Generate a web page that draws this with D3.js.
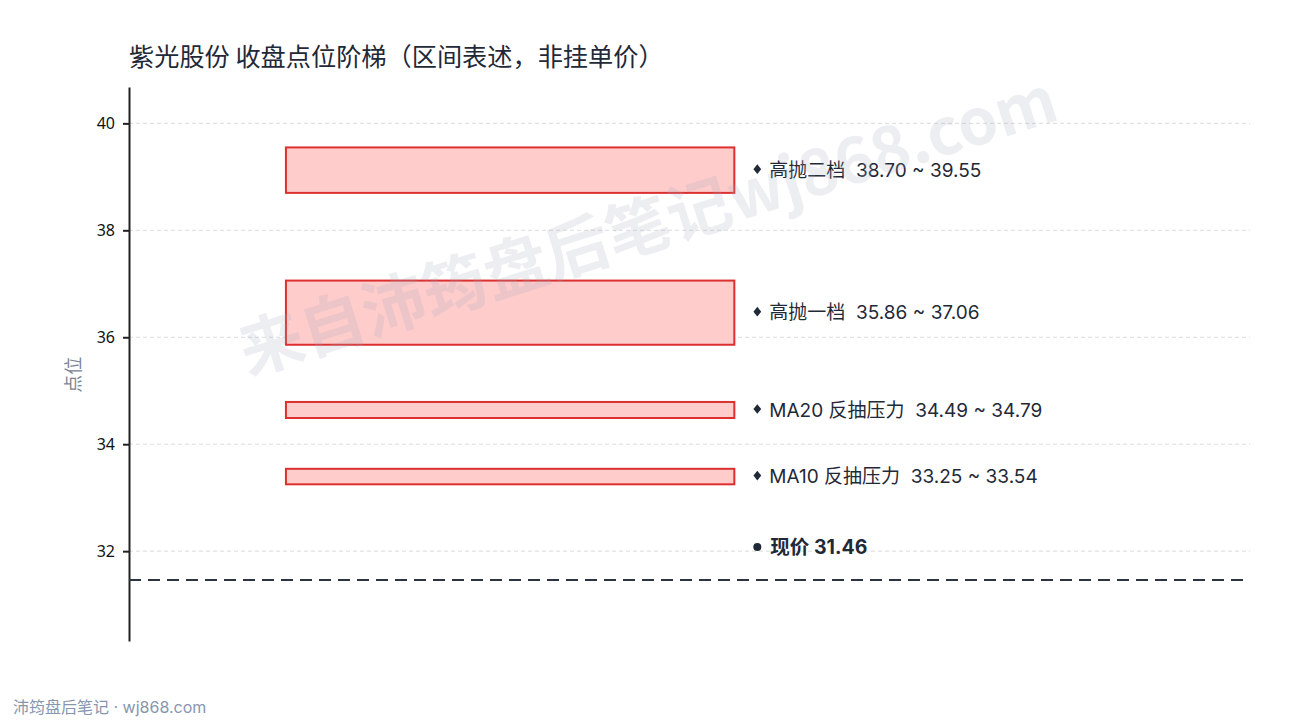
<!DOCTYPE html>
<html>
<head>
<meta charset="utf-8">
<script src="https://cdn.jsdelivr.net/npm/d3@7"></script>
<style>
  body { margin: 0; background: #fff; }
  svg { font-family: "Inter", "Noto Sans CJK SC", sans-serif; }
  text { white-space: pre; }
</style>
</head>
<body>
<svg width="1290" height="720"></svg>
<script>
    // zones, bottom edge / top edge
    const zoneNames = ["高抛二档", "高抛一档", "MA20 反抽压力", "MA10 反抽压力"];
    const zoneLow = [38.70, 35.86, 34.49, 33.25];
    const zoneHigh = [39.55, 37.06, 34.79, 33.54];
    const lastPrice = 31.46;
    const yTicks = [32, 34, 36, 38, 40];
    const yDomain = [30.32, 40.68];

    const svg = d3.select("svg"),
          margin = {top: 87, right: 40, bottom: 79, left: 129},
          width = +svg.attr("width") - margin.left - margin.right,
          height = +svg.attr("height") - margin.top - margin.bottom;

    const g = svg.append("g").attr("transform", `translate(${margin.left},${margin.top})`);

    const zones = zoneNames.map((name, i) => ({name, low: zoneLow[i], high: zoneHigh[i]}));

    const x = d3.scaleLinear().domain([0, 1]).range([0, width]);
    const y = d3.scaleLinear().domain(yDomain).range([height, 0]);

    // Chart title
    svg.append("text")
      .attr("x", 129)
      .attr("y", 66)
      .style("font-size", "25.2px")
      .style("font-family", "'Noto Sans CJK SC', sans-serif")
      .style("fill", "#1f2937")
      .text("紫光股份 收盘点位阶梯（区间表述，非挂单价）");

    // grid
    g.append("g")
      .selectAll("line")
      .data(yTicks)
      .enter().append("line")
      .attr("x1", 0)
      .attr("x2", width)
      .attr("y1", d => y(d))
      .attr("y2", d => y(d))
      .attr("stroke", "#dcdcdc")
      .attr("stroke-width", 1)
      .attr("stroke-dasharray", "4,3");

    const yAxis = g.append("g")
      .call(d3.axisLeft(y).tickValues(yTicks).tickSizeInner(6).tickSizeOuter(0).tickPadding(8).tickFormat(d3.format("d")));
    yAxis.select(".domain").attr("stroke", "#222").attr("stroke-width", 2);
    yAxis.selectAll(".tick line").attr("stroke", "#222").attr("stroke-width", 2);
    yAxis.selectAll(".tick text")
      .style("font-size", "16px")
      .style("font-family", "'Noto Sans', sans-serif")
      .attr("fill", "#111");

    // Y-axis label
    svg.append("text")
      .attr("transform", "rotate(-90)")
      .attr("x", -(margin.top + y(35.3)))
      .attr("y", 80)
      .attr("text-anchor", "middle")
      .style("font-size", "18px")
      .style("fill", "#7b8494")
      .text("点位");

    // zone boxes
    g.selectAll(".zone")
      .data(zones)
      .enter().append("rect")
      .attr("class", "zone")
      .attr("x", x(0.14))
      .attr("width", x(0.54) - x(0.14))
      .attr("y", d => y(d.high))
      .attr("height", d => y(d.low) - y(d.high))
      .attr("fill", "#ffcccc")
      .attr("stroke", "#dc2f2f")
      .attr("stroke-width", 2);

    const labels = g.selectAll(".zone-label")
      .data(zones)
      .enter().append("g")
      .attr("class", "zone-label")
      .attr("transform", d => `translate(${x(0.5605)},${y((d.low + d.high) / 2)})`);

    labels.append("path")
      .attr("d", d3.symbol(d3.symbolDiamond2, 60))
      .attr("transform", "translate(0,-1) scale(0.8,1)")
      .attr("fill", "#1f2937");

    labels.append("text")
      .attr("x", 12)
      .attr("dy", "0.35em")
      .style("font-size", "19px")
      .style("fill", "#1f2937")
      .text(d => `${d.name}  ${d.low.toFixed(2)} ~ ${d.high.toFixed(2)}`);

    // last price
    g.append("line")
      .attr("x1", 0)
      .attr("x2", width)
      .attr("y1", y(lastPrice))
      .attr("y2", y(lastPrice))
      .attr("stroke", "#2d3340")
      .attr("stroke-width", 2)
      .attr("stroke-dasharray", "12,7");

    const cur = g.append("g")
      .attr("transform", `translate(${x(0.5605)},${y(lastPrice) - 33})`);
    cur.append("circle").attr("r", 4).attr("cx", 0).attr("cy", 0).attr("fill", "#1f2937");
    cur.append("text")
      .attr("x", 13)
      .attr("dy", "0.35em")
      .style("font-size", "19.5px")
      .style("font-weight", "bold")
      .style("fill", "#1f2937")
      .text(`现价 ${lastPrice.toFixed(2)}`);

    // watermark
    svg.append("text")
      .attr("transform", "translate(648,226) rotate(-17.5)")
      .attr("text-anchor", "middle")
      .attr("dy", "0.35em")
      .style("font-size", "64px")
      .style("font-weight", "bold")
      .style("font-family", "'Noto Sans CJK SC', sans-serif")
      .style("fill", "rgba(160,170,190,0.2)")
      .text("来自沛筠盘后笔记wj868.com");

    // footer
    svg.append("text")
      .attr("x", 13)
      .attr("y", 713)
      .style("font-size", "16px")
      .style("fill", "#8796b0")
      .text("沛筠盘后笔记 · wj868.com");
</script>
</body>
</html>
